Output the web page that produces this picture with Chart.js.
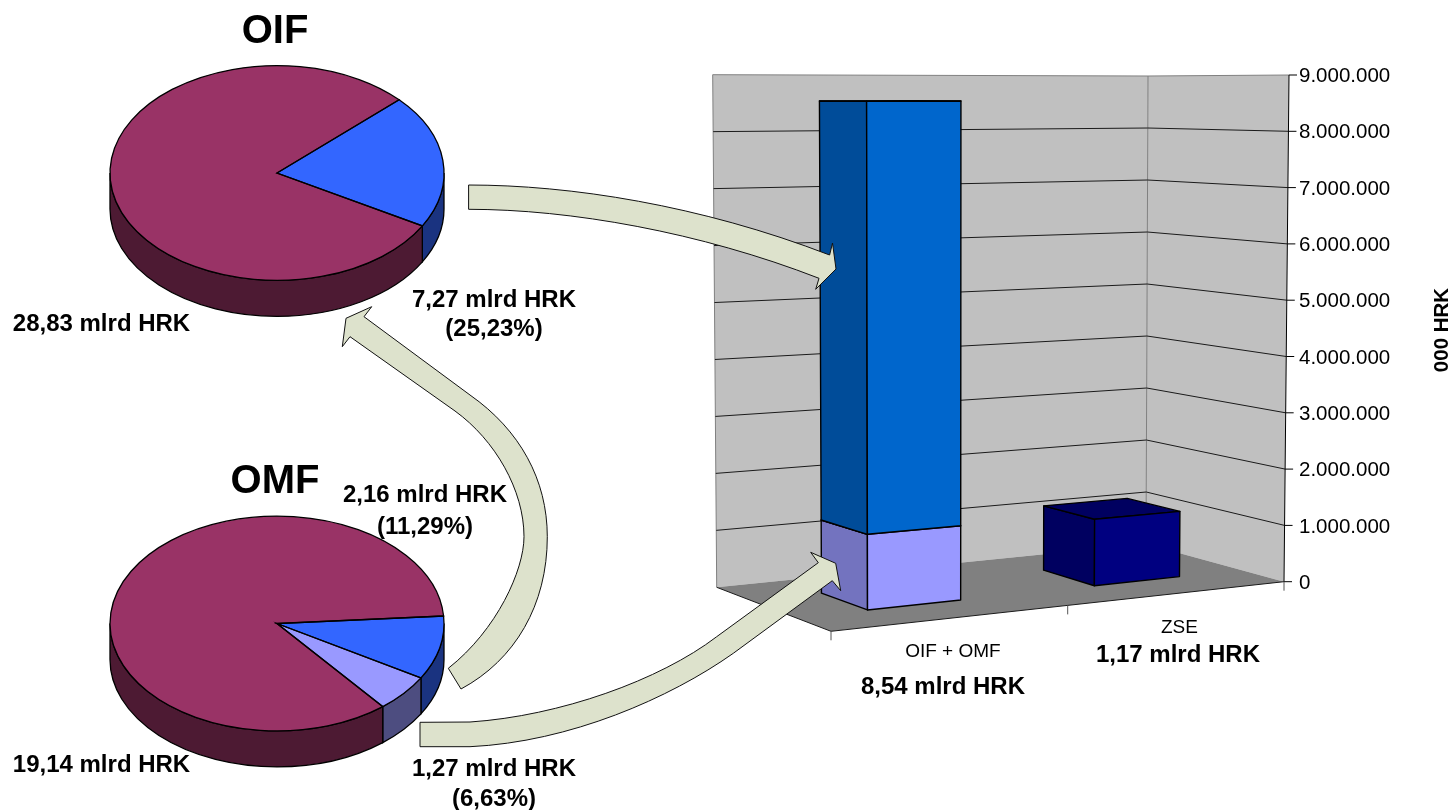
<!DOCTYPE html>
<html>
<head>
<meta charset="utf-8">
<title>OIF OMF ZSE</title>
<script src="https://cdn.jsdelivr.net/npm/chart.js@4"></script>
<style>
    html, body { margin: 0; padding: 0; background: #ffffff; overflow: hidden; }
    canvas { position: absolute; left: 0; top: 0; }
</style>
</head>
<body>
<canvas id="pieOif" width="1453" height="810"></canvas>
<canvas id="pieOmf" width="1453" height="810"></canvas>
<canvas id="barChart" width="1453" height="810"></canvas>
<script>
// pie values, mlrd HRK
const oifLabels = ["Dionice", "Ostalo"];
const oifValues = [7.27, 28.83];
const omfLabels = ["Dionice ZSE", "Dionice ostalo", "Ostalo"];
const omfValues = [2.16, 1.27, 19.14];

// bar values, 000 HRK
const barCategories = ["OIF + OMF", "ZSE"];
const barOmf = [1270000, null];
const barOif = [7270000, null];
const barZse = [null, 1170000];
const axisTicks = ["0", "1.000.000", "2.000.000", "3.000.000", "4.000.000", "5.000.000",
    "6.000.000", "7.000.000", "8.000.000", "9.000.000"];

const MAROON = "#993366", BLUE = "#3366FF", LILAC = "#9999FF";
const sideColors = {};
sideColors[MAROON] = "#4D1A33";
sideColors[BLUE] = "#1A3380";
sideColors[LILAC] = "#4D4D80";

const FONT = '"Liberation Sans", Arial, sans-serif';
Chart.defaults.font.family = FONT;
Chart.defaults.animation = false;

// y is the middle of the capitals, so positions do not depend on the baseline
function label(ctx, text, x, y, size, bold) {
    ctx.save();
    ctx.font = (bold ? "bold " : "") + size + "px " + FONT;
    ctx.fillStyle = "#000000";
    ctx.textAlign = "center";
    ctx.textBaseline = "alphabetic";
    ctx.fillText(text, x, y + size * 0.36);
    ctx.restore();
}

// flattened pie with a rim: squash the arcs, then add the rim and outlines
const PIE_SQUASH = 0.643;
const PIE_DEPTH = 36;

function rimParts(start, end) {
    // only the part of a slice between 0 and 180 degrees faces the viewer
    const parts = [];
    [0, 2 * Math.PI, -2 * Math.PI].forEach(function (shift) {
        const a = Math.max(start, shift), b = Math.min(end, shift + Math.PI);
        if (b > a) parts.push([a, b]);
    });
    return parts;
}

const pie3d = {
    id: "pie3d",
    beforeDatasetsDraw(chart) {
        const ctx = chart.ctx;
        chart.getDatasetMeta(0).data.forEach(function (arc, i) {
            const color = chart.data.datasets[0].backgroundColor[i];
            rimParts(arc.startAngle, arc.endAngle).forEach(function (p) {
                ctx.beginPath();
                ctx.ellipse(arc.x, arc.y, arc.outerRadius, arc.outerRadius * PIE_SQUASH, 0, p[0], p[1]);
                ctx.ellipse(arc.x, arc.y + PIE_DEPTH, arc.outerRadius, arc.outerRadius * PIE_SQUASH, 0, p[1], p[0], true);
                ctx.closePath();
                ctx.fillStyle = sideColors[color];
                ctx.fill();
                ctx.lineWidth = 1.3;
                ctx.strokeStyle = "#000000";
                ctx.stroke();
            });
        });
        const cy = chart.getDatasetMeta(0).data[0].y;
        ctx.save();
        ctx.translate(0, cy);
        ctx.scale(1, PIE_SQUASH);
        ctx.translate(0, -cy);
    },
    afterDatasetsDraw(chart) {
        const ctx = chart.ctx;
        ctx.restore();
        chart.getDatasetMeta(0).data.forEach(function (arc) {
            ctx.beginPath();
            ctx.moveTo(arc.x, arc.y);
            ctx.ellipse(arc.x, arc.y, arc.outerRadius, arc.outerRadius * PIE_SQUASH, 0, arc.startAngle, arc.endAngle);
            ctx.closePath();
            ctx.lineWidth = 1.3;
            ctx.strokeStyle = "#000000";
            ctx.stroke();
        });
    }
};

const pieTexts = {
    id: "pieTexts",
    afterDraw(chart) {
        const ctx = chart.ctx;
        if (chart.canvas.id === "pieOif") {
            label(ctx, "OIF", 275, 29, 40, true);
            label(ctx, "28,83 mlrd HRK", 101.5, 322, 24, true);
            label(ctx, "7,27 mlrd HRK", 494, 298, 24, true);
            label(ctx, "(25,23%)", 494, 327, 24, true);
        } else {
            label(ctx, "OMF", 275, 479, 40, true);
            label(ctx, "2,16 mlrd HRK", 425, 493, 24, true);
            label(ctx, "(11,29%)", 425, 525, 24, true);
            label(ctx, "19,14 mlrd HRK", 101.5, 763, 24, true);
            label(ctx, "1,27 mlrd HRK", 494, 767, 24, true);
            label(ctx, "(6,63%)", 494, 797, 24, true);
        }
    }
};

function pieChart(id, labels, values, colors, rotation, cy) {
    return new Chart(document.getElementById(id), {
        type: "pie",
        data: {
            labels: labels,
            datasets: [{ data: values, backgroundColor: colors, borderWidth: 0, hoverOffset: 0 }]
        },
        options: {
            responsive: false,
            events: [],
            rotation: rotation,
            layout: { padding: { left: 110, right: 1453 - 444, top: cy - 167, bottom: 810 - cy - 167 } },
            plugins: { legend: { display: false }, tooltip: { enabled: false } }
        },
        plugins: [pie3d, pieTexts]
    });
}

pieChart("pieOif", oifLabels, oifValues, [BLUE, MAROON], 47, 173);
pieChart("pieOmf", omfLabels, omfValues, [BLUE, LILAC, MAROON], 86, 623.5);

// box corners of the 3d plot, [x, y], front/back at floor and at the axis maximum
const floorBox = { fl: [831, 631.3], fr: [1284, 581.7], br: [1146, 544], bl: [716.7, 587.3] };
const roofBox = { fl: [830, 73], fr: [1289, 75], br: [1148, 76], bl: [712.7, 74.7] };
const BAR_FRONT = 0.31, BAR_BACK = 0.70;

// u across, d into the depth, t up, each from 0 to 1
function project(u, d, t) {
    const w = u + 0.09 * u * (1 - u); // near side of the floor is wider
    const corner = function (k, n) {
        const f = floorBox, r = roofBox;
        const low = f.fl[n] * (1 - w) * (1 - d) + f.fr[n] * w * (1 - d) + f.bl[n] * (1 - w) * d + f.br[n] * w * d;
        const top = r.fl[n] * (1 - w) * (1 - d) + r.fr[n] * w * (1 - d) + r.bl[n] * (1 - w) * d + r.br[n] * w * d;
        return low + (top - low) * k;
    };
    return [corner(t, 0), corner(t, 1)];
}

function poly(ctx, points, fill, stroke, width) {
    ctx.beginPath();
    points.forEach(function (p, i) {
        if (i === 0) ctx.moveTo(p[0], p[1]); else ctx.lineTo(p[0], p[1]);
    });
    if (fill) {
        ctx.closePath();
        ctx.fillStyle = fill;
        ctx.fill();
    }
    if (stroke) {
        ctx.strokeStyle = stroke;
        ctx.lineWidth = width || 1;
        ctx.stroke();
    }
}

const ratioOf = function (scale, px) { return (scale.bottom - px) / (scale.bottom - scale.top); };

const box3d = {
    id: "box3d",
    beforeDatasetsDraw(chart) {
        const ctx = chart.ctx, y = chart.scales.y;
        poly(ctx, [project(0, 1, 0), project(1, 1, 0), project(1, 1, 1), project(0, 1, 1)], "#C0C0C0", null);
        poly(ctx, [project(1, 1, 0), project(1, 0, 0), project(1, 0, 1), project(1, 1, 1)], "#C0C0C0", null);
        poly(ctx, [project(0, 0, 0), project(1, 0, 0), project(1, 1, 0), project(0, 1, 0)], "#808080", null);
        poly(ctx, [project(0, 1, 0), project(0, 1, 1), project(1, 1, 1), project(1, 0, 1)], null, "#808080");
        poly(ctx, [project(1, 1, 0), project(1, 1, 1)], null, "#808080");

        y.ticks.forEach(function (tick) {
            const t = ratioOf(y, y.getPixelForValue(tick.value));
            if (t > 0 && t < 1) {
                poly(ctx, [project(0, 1, t), project(1, 1, t), project(1, 0, t)], null, "#1a1a1a");
            }
        });
        poly(ctx, [project(0, 1, 0), project(0, 0, 0), project(1, 0, 0)], null, "#1a1a1a");
    },
    beforeDatasetDraw() {
        // the flat rectangles are replaced by the boxes drawn below
        return false;
    },
    afterDatasetsDraw(chart) {
        const ctx = chart.ctx, x = chart.scales.x, y = chart.scales.y;
        ctx.lineJoin = "round";
        // bottom of a stack first, so the upper box covers its top face
        chart.data.datasets.forEach(function (dataset, index) {
            chart.getDatasetMeta(index).data.forEach(function (bar, i) {
                if (dataset.data[i] === null) return;
                const u0 = (bar.x - bar.width / 2 - x.left) / (x.right - x.left);
                const u1 = (bar.x + bar.width / 2 - x.left) / (x.right - x.left);
                const t0 = ratioOf(y, bar.base), t1 = ratioOf(y, bar.y);
                poly(ctx, [project(u0, BAR_FRONT, t0), project(u0, BAR_BACK, t0), project(u0, BAR_BACK, t1), project(u0, BAR_FRONT, t1)], dataset.sideColor, "#000000", 1.4);
                ctx.closePath();
                poly(ctx, [project(u0, BAR_FRONT, t1), project(u0, BAR_BACK, t1), project(u1, BAR_BACK, t1), project(u1, BAR_FRONT, t1)], dataset.sideColor, "#000000", 1.4);
                poly(ctx, [project(u0, BAR_FRONT, t0), project(u1, BAR_FRONT, t0), project(u1, BAR_FRONT, t1), project(u0, BAR_FRONT, t1)], dataset.backgroundColor, "#000000", 1.4);
            });
        });
    },
    afterDraw(chart) {
        const ctx = chart.ctx, y = chart.scales.y;

        // value axis and its tick marks follow the leaning front edge of the box
        poly(ctx, [project(1, 0, 0), project(1, 0, 1)], null, "#000000");
        y.ticks.forEach(function (tick) {
            const p = project(1, 0, ratioOf(y, y.getPixelForValue(tick.value)));
            poly(ctx, [p, [p[0] + 8, p[1]]], null, "#000000");
        });
        [0, 0.5, 1].forEach(function (u) {
            const p = project(u, 0, 0);
            poly(ctx, [p, [p[0], p[1] + 9]], null, "#555555");
        });

        barCategories.forEach(function (name, i) {
            const p = project(0.25 + i * 0.5, 0, 0);
            label(ctx, name, p[0] + 1, p[1] + 32.5, 19, false);
        });
        label(ctx, "8,54 mlrd HRK", 943, 685, 24, true);
        label(ctx, "1,17 mlrd HRK", 1178, 653, 24, true);

        ctx.save();
        ctx.translate(1441, 330);
        ctx.rotate(-Math.PI / 2);
        label(ctx, "000 HRK", 0, 0, 20.5, true);
        ctx.restore();

        // block arrows between the pies and the bar
        const arrows = [
            "M468.6 185 C570 185 700 205 829.6 255 L832.5 243 L836 269 L815.7 289.3 L819 278.3 C700 232 570 209.3 468.6 209.3 Z",
            "M461 689 C515 660 547.3 605 547.3 536.7 C547.3 480 520 430 470 395 L364 316.7 L371.7 306.7 L346 318.3 L342.3 346.7 L350 336.7 L455 411 C495 440 524 490 524 536.7 C524 570 497 630 448.3 668.3 Z",
            "M420 722.3 L470 722 C560 716 660 680 716.7 636.7 L818.3 562.7 L810.7 552.3 L835.7 563.3 L840.7 590.7 L832.3 580.7 L733.3 653.3 C670 698 570 742 470 746.7 L420 746.7 Z"
        ];
        arrows.forEach(function (d) {
            const path = new Path2D(d);
            ctx.fillStyle = "#DDE2CC";
            ctx.fill(path);
            ctx.strokeStyle = "#111111";
            ctx.lineWidth = 1;
            ctx.stroke(path);
        });
    }
};

new Chart(document.getElementById("barChart"), {
    type: "bar",
    data: {
        labels: barCategories,
        datasets: [
            { label: "OMF", data: barOmf, backgroundColor: LILAC, sideColor: "#7373BF" },
            { label: "OIF", data: barOif, backgroundColor: "#0066CC", sideColor: "#004C99" },
            { label: "ZSE", data: barZse, backgroundColor: "#000080", sideColor: "#000060" }
        ]
    },
    options: {
        responsive: false,
        events: [],
        categoryPercentage: 1,
        barPercentage: 0.4,
        layout: { padding: { left: 713, top: 76.5, bottom: 810 - 583.2, right: 0 } },
        scales: {
            x: { stacked: true, display: false },
            y: {
                stacked: true,
                position: "right",
                min: 0,
                max: 9000000,
                ticks: {
                    stepSize: 1000000,
                    padding: 7,
                    color: "#000000",
                    font: { size: 20.5 },
                    callback: function (value, index) { return axisTicks[index]; }
                },
                grid: { display: false, drawTicks: true, tickLength: 8 },
                border: { display: false },
                afterFit: function (scale) { scale.width = 1453 - 1284; }
            }
        },
        plugins: { legend: { display: false }, tooltip: { enabled: false } }
    },
    plugins: [box3d]
});
</script>
</body>
</html>
